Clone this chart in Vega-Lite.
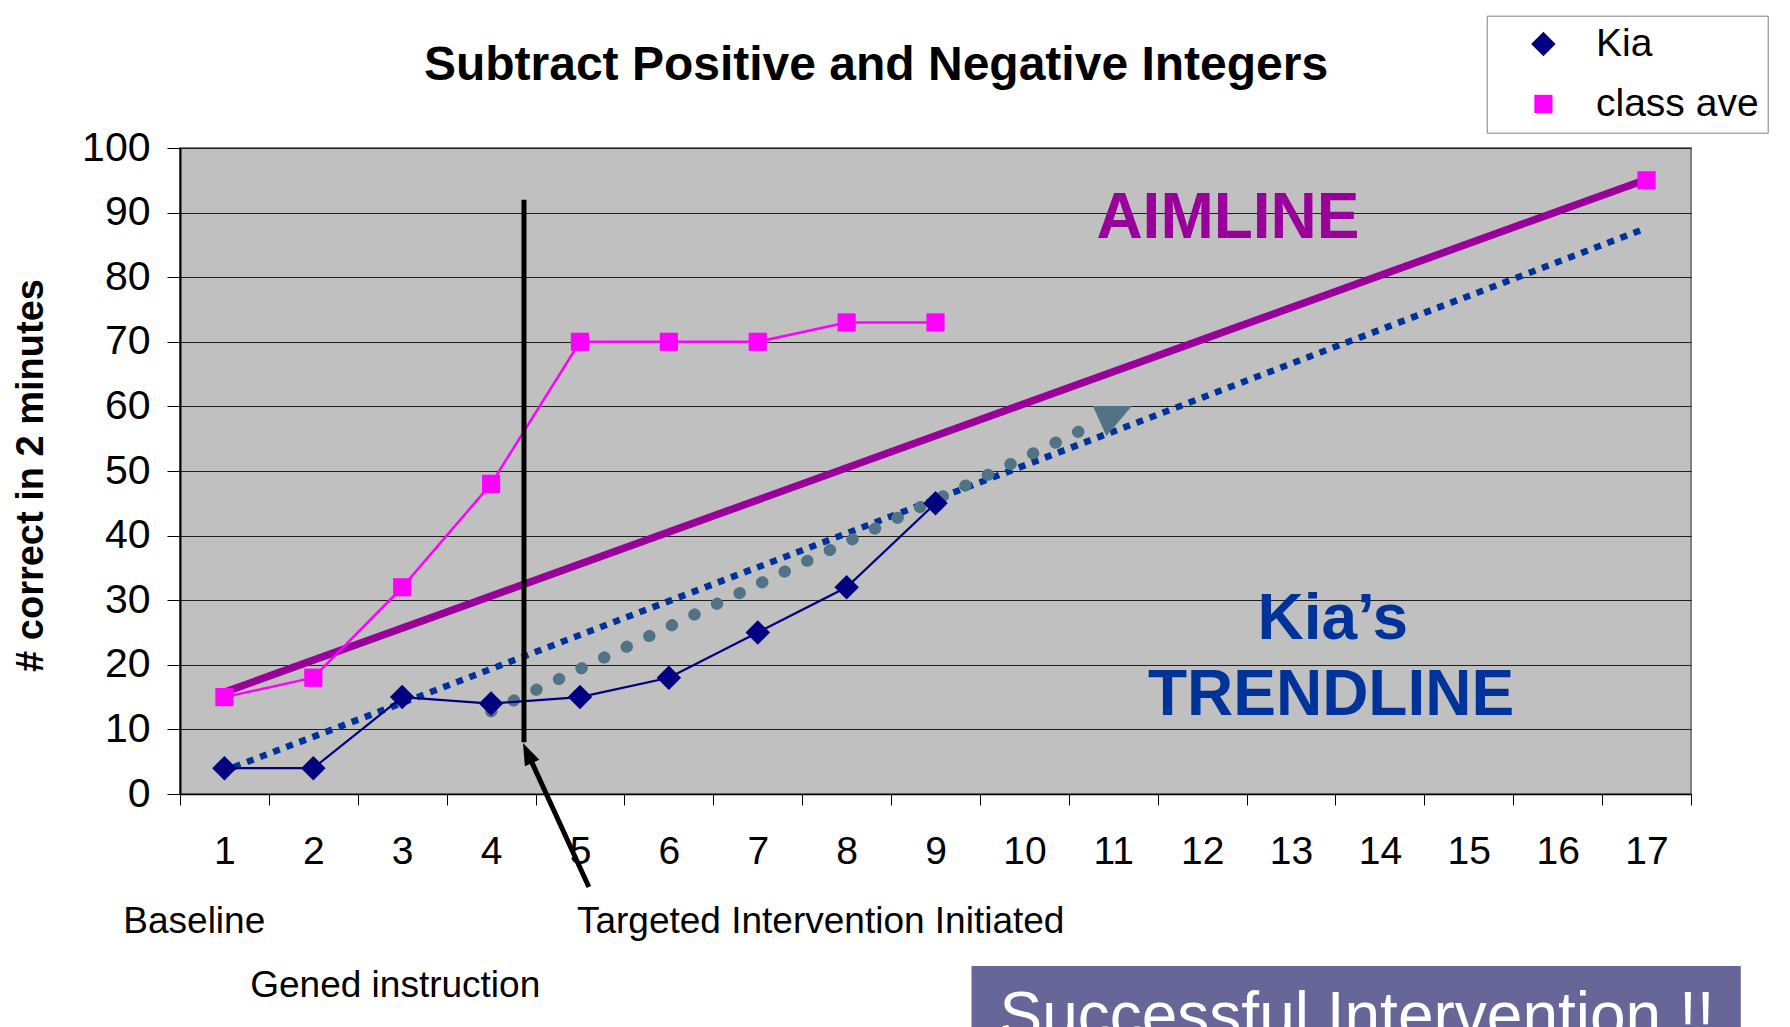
{
  "$schema": "https://vega.github.io/schema/vega-lite/v6.json",
  "width": 1511,
  "height": 646,
  "autosize": {"type": "none"},
  "padding": {"left": 180, "top": 148, "right": 99, "bottom": 233},
  "background": "white",
  "title": {"text": "Subtract Positive and Negative Integers", "font": "Liberation Sans", "fontSize": 48, "fontWeight": "bold", "color": "black", "anchor": "middle", "dx": -59.5, "baseline": "alphabetic", "offset": -112.6},
  "config": {"view": {"fill": "#C0C0C0", "stroke": "#808080", "strokeWidth": 2}, "font": "Liberation Sans"},
  "datasets": {
    "series": [
      {"session": 1, "score": 4, "series": "Kia"},
      {"session": 2, "score": 4, "series": "Kia"},
      {"session": 3, "score": 15, "series": "Kia"},
      {"session": 4, "score": 14, "series": "Kia"},
      {"session": 5, "score": 15, "series": "Kia"},
      {"session": 6, "score": 18, "series": "Kia"},
      {"session": 7, "score": 25, "series": "Kia"},
      {"session": 8, "score": 32, "series": "Kia"},
      {"session": 9, "score": 45, "series": "Kia"},
      {"session": 1, "score": 15, "series": "class ave"},
      {"session": 2, "score": 18, "series": "class ave"},
      {"session": 3, "score": 32, "series": "class ave"},
      {"session": 4, "score": 48, "series": "class ave"},
      {"session": 5, "score": 70, "series": "class ave"},
      {"session": 6, "score": 70, "series": "class ave"},
      {"session": 7, "score": 70, "series": "class ave"},
      {"session": 8, "score": 73, "series": "class ave"},
      {"session": 9, "score": 73, "series": "class ave"},
      {"session": 10, "score": null, "series": "class ave"},
      {"session": 11, "score": null, "series": "class ave"},
      {"session": 12, "score": null, "series": "class ave"},
      {"session": 13, "score": null, "series": "class ave"},
      {"session": 14, "score": null, "series": "class ave"},
      {"session": 15, "score": null, "series": "class ave"},
      {"session": 16, "score": null, "series": "class ave"},
      {"session": 17, "score": 95, "series": "class ave"}
    ],
    "guides": [
      {"name": "trendline", "x1": 0.96, "y1": 3.4, "x2": 16.98, "y2": 87.5},
      {"name": "progress", "x1": 4.0, "y1": 12.8, "x2": 10.84, "y2": 57.6},
      {"name": "aimline", "x1": 0.95, "y1": 15.5, "x2": 16.95, "y2": 94.9},
      {"name": "intervention", "x1": 4.37, "y1": 92, "x2": 4.37, "y2": 8.0},
      {"name": "arrow", "x1": 5.1, "y1": -14.4, "x2": 4.43, "y2": 5.77}
    ],
    "heads": [
      {"name": "arrow", "x": 4.41, "y": 6.34},
      {"name": "progress", "x": 10.99, "y": 57.74}
    ],
    "labels": [
      {"role": "aim", "text": "AIMLINE", "x": 12.29, "y": 86.1},
      {"role": "trend", "text": "Kia’s", "x": 13.47, "y": 24.0},
      {"role": "trend", "text": "TRENDLINE", "x": 13.45, "y": 12.2},
      {"role": "note", "text": "Baseline", "x": -0.138, "y": -21.47},
      {"role": "note", "text": "Targeted Intervention Initiated", "x": 4.966, "y": -21.47},
      {"role": "note", "text": "Gened instruction", "x": 1.29, "y": -31.38},
      {"role": "banner", "text": "Successful Intervention !!", "x": 9.72, "y": -37.6}
    ],
    "banner": [
      {"x1": 9.405, "x2": 18.06, "y1": -26.63, "y2": -40}
    ]
  },
  "layer": [
    {
      "data": {"name": "guides"},
      "transform": [{"filter": "datum.name === 'trendline'"}],
      "mark": {"type": "rule", "color": "#003399", "strokeWidth": 6.5, "strokeDash": [7, 7]},
      "encoding": {
        "x": {"field": "x1", "type": "quantitative", "scale": {"domain": [0.5, 17.5], "nice": false, "zero": false},
          "axis": {"values": [0.5, 1.5, 2.5, 3.5, 4.5, 5.5, 6.5, 7.5, 8.5, 9.5, 10.5, 11.5, 12.5, 13.5, 14.5, 15.5, 16.5, 17.5],
            "labelExpr": "datum.value < 17 ? format(datum.value + 0.5, 'd') : ''",
            "labelOffset": 44.44, "labelFlush": false, "labelOverlap": false, "labelBound": false,
            "labelFontSize": 39, "labelColor": "black", "labelFont": "Liberation Sans", "labelPadding": 27,
            "tickSize": 11, "tickColor": "black", "tickWidth": 1, "domainColor": "black", "domainWidth": 1.5,
            "grid": false, "title": null}},
        "y": {"field": "y1", "type": "quantitative", "scale": {"domain": [0, 100], "nice": false, "zero": false},
          "axis": {"values": [0, 10, 20, 30, 40, 50, 60, 70, 80, 90, 100], "grid": true, "gridColor": "#1e1e1e", "gridWidth": 1.2,
            "tickSize": 13, "tickColor": "black", "domainColor": "black", "domainWidth": 2,
            "labelFontSize": 41, "labelPadding": 17, "labelColor": "black", "labelFont": "Liberation Sans",
            "labelFlush": false, "labelOverlap": false, "labelBound": false,
            "title": "# correct in 2 minutes", "titleFont": "Liberation Sans", "titleFontSize": 38, "titleFontWeight": "bold", "titleColor": "black",
            "titleX": -130, "titleY": 327, "titleAngle": 270, "titleBaseline": "bottom", "titleAlign": "center"}},
        "x2": {"field": "x2"},
        "y2": {"field": "y2"}
      }
    },
    {
      "data": {"name": "guides"},
      "transform": [{"filter": "datum.name === 'progress'"}],
      "mark": {"type": "rule", "color": "#527386", "strokeWidth": 12, "strokeDash": [0.5, 24.5], "strokeCap": "round"},
      "encoding": {"x": {"field": "x1", "type": "quantitative"}, "y": {"field": "y1", "type": "quantitative"}, "x2": {"field": "x2"}, "y2": {"field": "y2"}}
    },
    {
      "data": {"name": "heads"},
      "transform": [{"filter": "datum.name === 'progress'"}],
      "mark": {"type": "point", "filled": true, "color": "#527386", "opacity": 1, "size": 1600, "shape": "M-0.975,-0.75L0.975,-0.75L-0.3,0.75Z"},
      "encoding": {"x": {"field": "x", "type": "quantitative"}, "y": {"field": "y", "type": "quantitative"}}
    },
    {
      "data": {"name": "guides"},
      "transform": [{"filter": "datum.name === 'aimline'"}],
      "mark": {"type": "rule", "color": "#990099", "strokeWidth": 7.5},
      "encoding": {"x": {"field": "x1", "type": "quantitative"}, "y": {"field": "y1", "type": "quantitative"}, "x2": {"field": "x2"}, "y2": {"field": "y2"}}
    },
    {
      "data": {"name": "series"},
      "transform": [{"filter": "datum.series === 'class ave'"}],
      "mark": {"type": "line", "color": "#FF00FF", "strokeWidth": 2.5, "invalid": "break-paths-filter-domains"},
      "encoding": {"x": {"field": "session", "type": "quantitative"}, "y": {"field": "score", "type": "quantitative"}}
    },
    {
      "data": {"name": "series"},
      "transform": [{"filter": "datum.series === 'Kia'"}],
      "mark": {"type": "line", "color": "#000080", "strokeWidth": 2.2},
      "encoding": {"x": {"field": "session", "type": "quantitative"}, "y": {"field": "score", "type": "quantitative"}}
    },
    {
      "data": {"name": "series"},
      "mark": {"type": "point", "filled": true, "opacity": 1},
      "encoding": {
        "x": {"field": "session", "type": "quantitative"},
        "y": {"field": "score", "type": "quantitative"},
        "shape": {"field": "series", "type": "nominal", "scale": {"domain": ["Kia", "class ave"], "range": ["diamond", "square"]}, "legend": null},
        "size": {"field": "series", "type": "nominal", "scale": {"domain": ["Kia", "class ave"], "range": [600, 330]}, "legend": null},
        "color": {"field": "series", "type": "nominal", "scale": {"domain": ["Kia", "class ave"], "range": ["#000080", "#FF00FF"]},
          "legend": {"title": null, "orient": "none", "legendX": 1306.7, "legendY": -132.3, "padding": 8.7,
            "fillColor": "white", "strokeColor": "#808080",
            "labelFontSize": 39, "labelFont": "Liberation Sans", "labelColor": "black", "labelOffset": 33.1, "labelLimit": 400,
            "symbolOffset": 28.5, "symbolSize": 900, "symbolStrokeWidth": 0, "rowPadding": 20,
            "encode": {
              "legend": {"strokeWidth": {"value": 1.5}},
              "symbols": {
                "shape": {"value": {"expr": "datum.value === 'Kia' ? 'M-2.84,-0.07L2.84,-0.07L2.84,0.07L-2.84,0.07Z M-0.11,-0.55L0.52,0L-0.11,0.55L-0.74,0Z' : 'M-2.84,-0.1L2.84,-0.1L2.84,0.1L-2.84,0.1Z M-0.76,-0.52L0.4,-0.52L0.4,0.52L-0.76,0.52Z'"}},
                "fill": {"value": {"expr": "datum.value === 'Kia' ? '#000080' : '#FF00FF'"}},
                "stroke": {"value": "transparent"},
                "strokeWidth": {"value": 0},
                "size": {"value": 900},
                "opacity": {"value": 1}
              }
            }}}
      }
    },
    {
      "data": {"name": "guides"},
      "transform": [{"filter": "datum.name === 'intervention' || datum.name === 'arrow'"}],
      "mark": {"type": "rule", "color": "black", "strokeWidth": 5},
      "encoding": {"x": {"field": "x1", "type": "quantitative"}, "y": {"field": "y1", "type": "quantitative"}, "x2": {"field": "x2"}, "y2": {"field": "y2"}}
    },
    {
      "data": {"name": "heads"},
      "transform": [{"filter": "datum.name === 'arrow'"}],
      "mark": {"type": "point", "filled": true, "color": "black", "opacity": 1, "size": 484, "angle": 335.4, "shape": "M0,-1L0.72,1L-0.72,1Z"},
      "encoding": {"x": {"field": "x", "type": "quantitative"}, "y": {"field": "y", "type": "quantitative"}}
    },
    {
      "data": {"name": "labels"},
      "transform": [{"filter": "datum.role === 'aim'"}],
      "mark": {"type": "text", "font": "Liberation Sans", "fontSize": 64, "fontWeight": "bold", "color": "#990099", "align": "center", "baseline": "alphabetic"},
      "encoding": {"x": {"field": "x", "type": "quantitative"}, "y": {"field": "y", "type": "quantitative"}, "text": {"field": "text"}}
    },
    {
      "data": {"name": "labels"},
      "transform": [{"filter": "datum.role === 'trend'"}],
      "mark": {"type": "text", "font": "Liberation Sans", "fontSize": 64, "fontWeight": "bold", "color": "#003399", "align": "center", "baseline": "alphabetic"},
      "encoding": {"x": {"field": "x", "type": "quantitative"}, "y": {"field": "y", "type": "quantitative"}, "text": {"field": "text"}}
    },
    {
      "data": {"name": "labels"},
      "transform": [{"filter": "datum.role === 'note'"}],
      "mark": {"type": "text", "font": "Liberation Sans", "fontSize": 37, "color": "black", "align": "left", "baseline": "alphabetic"},
      "encoding": {"x": {"field": "x", "type": "quantitative"}, "y": {"field": "y", "type": "quantitative"}, "text": {"field": "text"}}
    },
    {
      "data": {"name": "banner"},
      "mark": {"type": "rect", "color": "#666699", "opacity": 1},
      "encoding": {"x": {"field": "x1", "type": "quantitative"}, "x2": {"field": "x2"}, "y": {"field": "y1", "type": "quantitative"}, "y2": {"field": "y2"}}
    },
    {
      "data": {"name": "labels"},
      "transform": [{"filter": "datum.role === 'banner'"}],
      "mark": {"type": "text", "font": "Liberation Sans", "fontSize": 64, "color": "white", "align": "left", "baseline": "alphabetic"},
      "encoding": {"x": {"field": "x", "type": "quantitative"}, "y": {"field": "y", "type": "quantitative"}, "text": {"field": "text"}}
    }
  ]
}
